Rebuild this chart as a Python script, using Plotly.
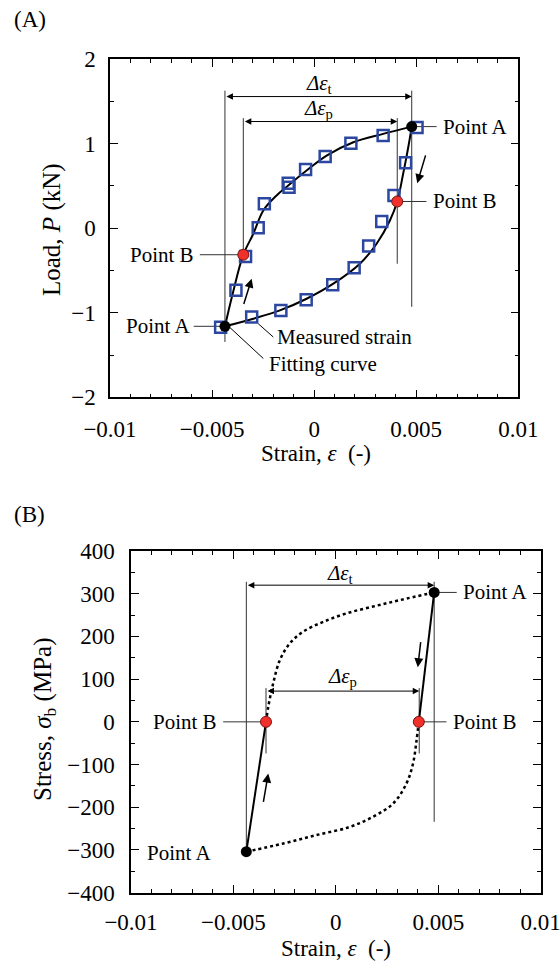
import plotly.graph_objects as go

# ---------------- Panel A data (strain [-], load [kN]) ----------------
meas_up_x = [-0.00458, -0.00383, -0.00336, -0.00274, -0.00244, -0.00127, -0.00123,
             -0.00042, 0.00054, 0.00180, 0.00338, 0.00504]
meas_up_y = [-1.17, -0.735, -0.334, 0.005, 0.288, 0.531, 0.484, 0.693, 0.846, 1.004, 1.094, 1.19]
meas_dn_x = [0.00448, 0.00391, 0.00331, 0.00267, 0.00196, 0.00091, -0.00039, -0.00163, -0.00306]
meas_dn_y = [0.772, 0.386, 0.079, -0.212, -0.468, -0.668, -0.845, -0.972, -1.05]

fit_up_x = [-0.00437, -0.00399, -0.00347, -0.00298, -0.00249, -0.00184, -0.00127,
            -0.00037, 0.00061, 0.00192, 0.00338, 0.00478]
fit_up_y = [-1.16, -0.775, -0.314, -0.066, 0.209, 0.386, 0.504, 0.681, 0.858, 1.015, 1.114, 1.20]
fit_dn_x = [0.00478, 0.00461, 0.00436, 0.00407, 0.00371, 0.00306, 0.00224, 0.00094,
            -0.00037, -0.00168, -0.00298, -0.00437]
fit_dn_y = [1.20, 0.956, 0.642, 0.315, 0.091, -0.184, -0.42, -0.656, -0.834, -0.972, -1.07, -1.16]

a_pointA_x = [-0.00437, 0.00478]
a_pointA_y = [-1.16, 1.20]
a_pointB_x = [-0.00347, 0.00407]
a_pointB_y = [-0.314, 0.315]

# ---------------- Panel B data (strain [-], stress [MPa]) ----------------
b_pointA_x = [-0.00437, 0.0048]
b_pointA_y = [-304, 303]
b_pointB_x = [-0.00341, 0.00405]
b_pointB_y = [0, 0]

b_up_x = [-0.00341, -0.0033, -0.00306, -0.00273, -0.00224, -0.0016, -0.00062,
          0.00052, 0.00182, 0.00312, 0.0048]
b_up_y = [0, 35, 90, 145, 184, 211, 234, 254, 270, 285, 303]
b_dn_x = [0.00405, 0.00394, 0.00377, 0.00345, 0.0028, 0.00182, 0.00068, -0.00094, -0.00257, -0.00437]
b_dn_y = [0, -43, -97, -144, -191, -222, -246, -265, -285, -304]

# ---------------- Tick labels ----------------
x_tickvals = [-0.01, -0.005, 0, 0.005, 0.01]
x_ticktext = ["\u22120.01", "\u22120.005", "0", "0.005", "0.01"]
a_y_tickvals = [-2, -1, 0, 1, 2]
a_y_ticktext = ["\u22122", "\u22121", "0", "1", "2"]
b_y_tickvals = [-400, -300, -200, -100, 0, 100, 200, 300, 400]
b_y_ticktext = ["\u2212400", "\u2212300", "\u2212200", "\u2212100", "0", "100", "200", "300", "400"]

FONT = "Liberation Serif"
W, H = 560, 965
BLUE = "#2c47a0"
RED = "#f0302a"
GRAY = "#333333"

fig = go.Figure()

def line(x, y, xa, ya, color="black", width=1.0, dash="solid", shape="linear"):
    fig.add_trace(go.Scatter(x=x, y=y, xaxis=xa, yaxis=ya, mode="lines",
                             line=dict(color=color, width=width, dash=dash, shape=shape),
                             hoverinfo="skip", showlegend=False))

# ---------- Panel A ----------
line([a_pointA_x[0]] * 2, [1.625, -1.345], "x", "y", GRAY, 1)
line([a_pointA_x[1]] * 2, [1.625, -0.93], "x", "y", GRAY, 1)
line([a_pointB_x[0]] * 2, [1.30, a_pointB_y[0]], "x", "y", GRAY, 1)
line([a_pointB_x[1]] * 2, [1.30, -0.42], "x", "y", GRAY, 1)
line([0.00478, 0.0060], [1.2, 1.2], "x", "y", GRAY, 1)
line([0.00407, 0.0055], [0.315, 0.315], "x", "y", GRAY, 1)
line([-0.0056, -0.00347], [-0.314, -0.314], "x", "y", GRAY, 1)
line([-0.0059, -0.00437], [-1.16, -1.16], "x", "y", GRAY, 1)
line([-0.00274, -0.0020], [-1.129, -1.287], "x", "y", "black", 1)
line([-0.00412, -0.00249], [-1.176, -1.54], "x", "y", "black", 1)

line(fit_up_x, fit_up_y, "x", "y", "black", 2, shape="spline")
line(fit_dn_x, fit_dn_y, "x", "y", "black", 2, shape="spline")

fig.add_trace(go.Scatter(x=meas_up_x + meas_dn_x, y=meas_up_y + meas_dn_y, xaxis="x", yaxis="y",
                         mode="markers",
                         marker=dict(symbol="square-open", size=11, color=BLUE, line=dict(width=2.5, color=BLUE)),
                         hoverinfo="skip", showlegend=False))
fig.add_trace(go.Scatter(x=a_pointA_x, y=a_pointA_y, xaxis="x", yaxis="y", mode="markers",
                         marker=dict(size=11, color="black"), hoverinfo="skip", showlegend=False))
fig.add_trace(go.Scatter(x=a_pointB_x, y=a_pointB_y, xaxis="x", yaxis="y", mode="markers",
                         marker=dict(size=11, color=RED, line=dict(width=1, color="#7a1010")),
                         hoverinfo="skip", showlegend=False))

# ---------- Panel B ----------
line([b_pointA_x[0]] * 2, [328, b_pointA_y[0]], "x2", "y2", GRAY, 1)
line([b_pointA_x[1]] * 2, [328, -234], "x2", "y2", GRAY, 1)
line([b_pointB_x[0]] * 2, [79, -74], "x2", "y2", GRAY, 1)
line([0.00407] * 2, [79, -74], "x2", "y2", GRAY, 1)
line([0.0048, 0.0059], [303, 303], "x2", "y2", GRAY, 1)
line([0.00405, 0.0054], [0, 0], "x2", "y2", GRAY, 1)
line([-0.0055, -0.00341], [0, 0], "x2", "y2", GRAY, 1)

line(b_up_x, b_up_y, "x2", "y2", "black", 2.5, dash="dot", shape="spline")
line(b_dn_x, b_dn_y, "x2", "y2", "black", 2.5, dash="dot", shape="spline")
line([b_pointA_x[0], b_pointB_x[0]], [b_pointA_y[0], b_pointB_y[0]], "x2", "y2", "black", 2)
line([b_pointA_x[1], b_pointB_x[1]], [b_pointA_y[1], b_pointB_y[1]], "x2", "y2", "black", 2)

fig.add_trace(go.Scatter(x=b_pointA_x, y=b_pointA_y, xaxis="x2", yaxis="y2", mode="markers",
                         marker=dict(size=11, color="black"), hoverinfo="skip", showlegend=False))
fig.add_trace(go.Scatter(x=b_pointB_x, y=b_pointB_y, xaxis="x2", yaxis="y2", mode="markers",
                         marker=dict(size=11, color=RED, line=dict(width=1, color="#7a1010")),
                         hoverinfo="skip", showlegend=False))

# ---------- Annotations ----------
ann = []
def txt(x, y, t, xref, yref, xanchor="center", size=21, yanchor="middle", angle=0):
    ann.append(dict(x=x, y=y, text=t, xref=xref, yref=yref, showarrow=False,
                    xanchor=xanchor, yanchor=yanchor, textangle=angle,
                    font=dict(family=FONT, size=size, color="black")))

def darrow(x0, x1, y, xref, yref):
    ann.append(dict(x=x1, y=y, ax=x0, ay=y, xref=xref, yref=yref, axref=xref, ayref=yref,
                    text="", showarrow=True, arrowhead=2, arrowside="end+start",
                    arrowsize=1.3, arrowwidth=1, arrowcolor="black", standoff=0, startstandoff=0))

def sarrow(x0, y0, x1, y1, xref, yref):
    ann.append(dict(x=x1, y=y1, ax=x0, ay=y0, xref=xref, yref=yref, axref=xref, ayref=yref,
                    text="", showarrow=True, arrowhead=2, arrowsize=1.2, arrowwidth=1.5,
                    arrowcolor="black", standoff=0))

darrow(a_pointA_x[0], a_pointA_x[1], 1.555, "x", "y")
darrow(a_pointB_x[0], a_pointB_x[1], 1.26, "x", "y")
txt(0.00022, 1.70, "<i>\u0394\u03b5</i><sub>t</sub>", "x", "y")
txt(0.00022, 1.41, "<i>\u0394\u03b5</i><sub>p</sub>", "x", "y")
txt(0.0062, 1.2, "Point A", "x", "y", "left")
txt(0.0057, 0.315, "Point B", "x", "y", "left")
txt(-0.0058, -0.314, "Point B", "x", "y", "right")
txt(-0.006, -1.16, "Point A", "x", "y", "right")
txt(-0.00192, -1.287, "Measured strain", "x", "y", "left")
txt(-0.00233, -1.60, "Fitting curve", "x", "y", "left")
sarrow(-0.00347, -0.913, -0.00306, -0.597, "x", "y")
sarrow(0.00548, 0.878, 0.00505, 0.531, "x", "y")

darrow(b_pointA_x[0], b_pointA_x[1], 320, "x2", "y2")
darrow(b_pointB_x[0], 0.00407, 72, "x2", "y2")
txt(0.00022, 346, "<i>\u0394\u03b5</i><sub>t</sub>", "x2", "y2")
txt(0.00033, 104, "<i>\u0394\u03b5</i><sub>p</sub>", "x2", "y2")
txt(0.0061, 303, "Point A", "x2", "y2", "left")
txt(0.0056, 0, "Point B", "x2", "y2", "left")
txt(-0.0057, 0, "Point B", "x2", "y2", "right")
txt(-0.0060, -307, "Point A", "x2", "y2", "right")
sarrow(-0.00355, -191, -0.0033, -121, "x2", "y2")
sarrow(0.00415, 190, 0.0040, 128, "x2", "y2")

def px(xp): return xp / W
def py(yp): return 1 - yp / H
txt(px(12), py(20), "(A)", "paper", "paper", "left", size=23)
txt(px(12), py(514), "(B)", "paper", "paper", "left", size=23)
txt(px(316), py(453), "Strain, <i>\u03b5</i>  (-)", "paper", "paper", size=23)
txt(px(52), py(230), "Load, <i>P</i> (kN)", "paper", "paper", size=25, angle=-90)
txt(px(336), py(948), "Strain, <i>\u03b5</i>  (-)", "paper", "paper", size=23)
txt(px(44), py(720), "Stress, <i>\u03c3</i><sub>b</sub> (MPa)", "paper", "paper", size=25, angle=-90)

axis_common = dict(showline=True, linecolor="black", linewidth=1.5, mirror="allticks",
                   ticks="inside", ticklen=8, tickwidth=1, tickcolor="black",
                   showgrid=False, zeroline=False, automargin=False,
                   ticklabeloverflow="allow",
                   tickfont=dict(family=FONT, size=23, color="black"))

fig.update_layout(
    template="none",
    width=W, height=H,
    margin=dict(l=0, r=0, t=0, b=0, pad=0),
    paper_bgcolor="white", plot_bgcolor="white",
    showlegend=False,
    annotations=ann,
    xaxis=dict(**axis_common, domain=[110 / W, 518.3 / W], range=[-0.01, 0.01], anchor="y",
               tickvals=x_tickvals, ticktext=x_ticktext, ticklabelstandoff=10,
               minor=dict(dtick=0.001, tick0=0, ticks="inside", ticklen=4, tickcolor="black", showgrid=False)),
    yaxis=dict(**axis_common, domain=[1 - 397.4 / H, 1 - 58.9 / H], range=[-2, 2], anchor="x",
               tickvals=a_y_tickvals, ticktext=a_y_ticktext, ticklabelstandoff=8,
               minor=dict(dtick=0.5, tick0=0, ticks="inside", ticklen=4, tickcolor="black", showgrid=False)),
    xaxis2=dict(**axis_common, domain=[131 / W, 540.7 / W], range=[-0.01, 0.01], anchor="y2",
                tickvals=x_tickvals, ticktext=x_ticktext, ticklabelstandoff=8,
                minor=dict(dtick=0.001, tick0=0, ticks="inside", ticklen=4, tickcolor="black", showgrid=False)),
    yaxis2=dict(**axis_common, domain=[1 - 892.7 / H, 1 - 551 / H], range=[-400, 400], anchor="x2",
                tickvals=b_y_tickvals, ticktext=b_y_ticktext, ticklabelstandoff=10,
                minor=dict(dtick=50, tick0=0, ticks="inside", ticklen=4, tickcolor="black", showgrid=False)),
)

fig.write_html("out.html")
